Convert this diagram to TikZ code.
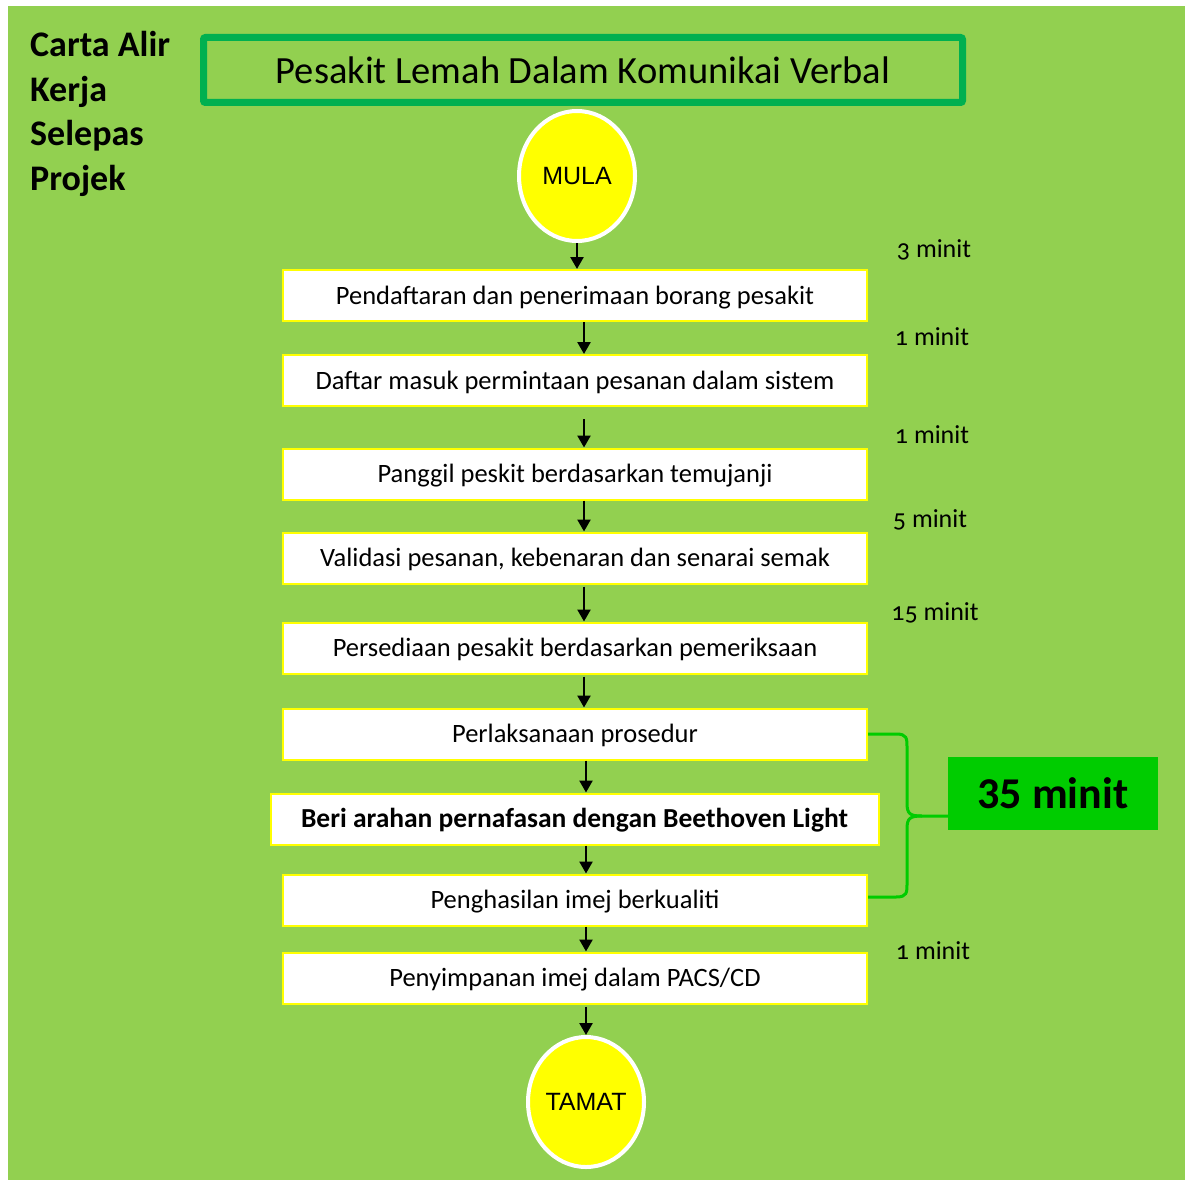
\documentclass[tikz,border=0pt]{standalone}
\usepackage{fontspec}
\setmainfont{Carlito}[Numbers=OldStyle]
\newfontfamily\arialf{Liberation Sans}
\newfontfamily\liningf{Carlito}[Numbers=Lining]
\usetikzlibrary{arrows.meta,calc,shapes.geometric}
\definecolor{bggreen}{HTML}{92D050}
\definecolor{titlegreen}{HTML}{00B050}
\definecolor{bracegreen}{HTML}{00CC00}
\definecolor{boxyellow}{HTML}{FFFF00}
\tikzset{
  stepbox/.style={draw=boxyellow, fill=white, line width=2pt, minimum width=584pt, minimum height=51pt, inner sep=0pt, text height=19pt, text depth=2pt, font=\fontsize{26.5}{30}\selectfont},
  termnode/.style={ellipse, draw=white, fill=boxyellow, line width=4pt, minimum width=116pt, minimum height=130pt, inner sep=0pt, font=\arialf\fontsize{25}{28}\selectfont},
  timelbl/.style={font=\fontsize{26}{30}\selectfont, inner sep=0pt},
  arr/.style={line width=2.5pt, -{Triangle[width=13pt,length=12pt]}},
}
\begin{document}
\begin{tikzpicture}[x=1pt,y=-1pt]
\useasboundingbox (0,0) rectangle (1185,1180);
\fill[white] (0,0) rectangle (1185,1180);
\fill[bggreen] (8,6) rectangle (1185,1180);
% left title
\node[anchor=north west, align=left, inner sep=0pt, font=\bfseries\fontsize{36}{44.7}\selectfont] (lefttitle) at (30,31) {Carta Alir\\Kerja\\Selepas\\Projek};
% top title box
\node[draw=titlegreen, line width=7pt, rounded corners=2pt, minimum width=759pt, minimum height=65pt, inner sep=0pt, font=\fontsize{38.5}{42}\selectfont] (title) at (583,70) {Pesakit Lemah Dalam Komunikai Verbal};
% terminals
\node[termnode] (mula) at (577,176) {MULA};
\node[termnode] (tamat) at (586,1102) {TAMAT};
% steps
\node[stepbox] (b1) at (575,295.5) {Pendaftaran dan penerimaan borang pesakit};
\node[stepbox] (b2) at (575,380.5) {Daftar masuk permintaan pesanan dalam sistem};
\node[stepbox] (b3) at (575,474) {Panggil peskit berdasarkan temujanji};
\node[stepbox] (b4) at (575,558) {Validasi pesanan, kebenaran dan senarai semak};
\node[stepbox] (b5) at (575,648) {Persediaan pesakit berdasarkan pemeriksaan};
\node[stepbox] (b6) at (575,734) {Perlaksanaan prosedur};
\node[stepbox, minimum width=608pt, font=\bfseries\fontsize{27.5}{30}\selectfont] (b7) at (574.5,819) {Beri arahan pernafasan dengan Beethoven Light};
\node[stepbox] (b8) at (575,900) {Penghasilan imej berkualiti};
\node[stepbox] (b9) at (575,978) {Penyimpanan imej dalam PACS/CD};
% arrow x positions
\coordinate (ax0) at (577,0);
\coordinate (ax1) at (584,0);
\coordinate (ax2) at (586,0);
\draw[arr] (mula.south -| ax0) -- (b1.north -| ax0);
\draw[arr] (b1.south -| ax1) -- (b2.north -| ax1);
\draw[arr] ($(b2.south -| ax1)+(0,12)$) -- (b3.north -| ax1);
\draw[arr] (b3.south -| ax1) -- (b4.north -| ax1);
\draw[arr] ($(b4.south -| ax1)+(0,2)$) -- (b5.north -| ax1);
\draw[arr] ($(b5.south -| ax1)+(0,2)$) -- (b6.north -| ax1);
\draw[arr] (b6.south -| ax2) -- (b7.north -| ax2);
\draw[arr] (b7.south -| ax2) -- (b8.north -| ax2);
\draw[arr] (b8.south -| ax2) -- (b9.north -| ax2);
\draw[arr] ($(b9.south -| ax2)+(0,2)$) -- (tamat.north -| ax2);
% time labels
\node[timelbl] (t1) at (934,250) {3 minit};
\node[timelbl] (t2) at (932,337) {1 minit};
\node[timelbl] (t3) at (932,435) {1 minit};
\node[timelbl] (t4) at (930,520) {5 minit};
\node[timelbl] (t5) at (935,613) {15 minit};
\node[timelbl] (t6) at (933,951) {1 minit};
% total box
\node[fill=bracegreen, minimum width=210pt, minimum height=73pt, inner sep=0pt, font=\liningf\bfseries\fontsize{44}{48}\selectfont] (total) at (1053,793.5) {35 minit};
% brace
\draw[bracegreen, line width=3pt]
  (b6.east |- 0,734) -- (896,734) .. controls (907,734) and (907,738) .. (907,748)
  -- (907,803) .. controls (907,814) and (910,816) .. (922,816) -- (total.west |- 0,816);
\draw[bracegreen, line width=3pt]
  (b8.east |- 0,897) -- (896,897) .. controls (907,897) and (907,893) .. (907,883)
  -- (907,829) .. controls (907,818) and (910,816) .. (922,816);
\end{tikzpicture}
\end{document}
